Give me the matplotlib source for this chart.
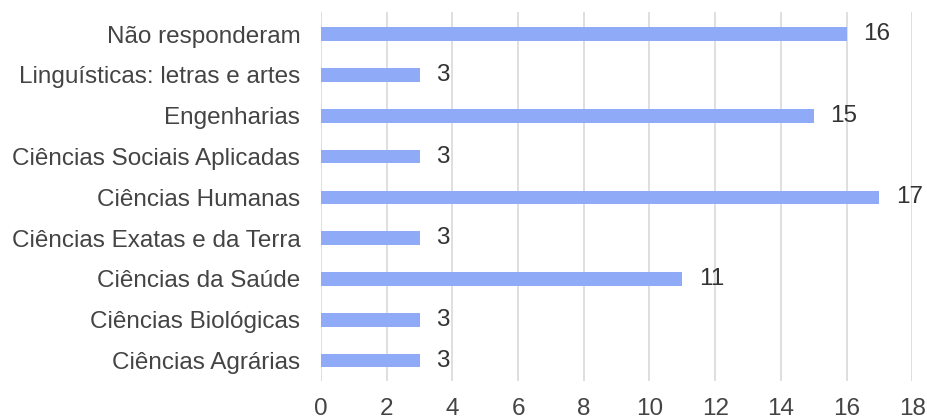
import matplotlib
matplotlib.use("Agg")
import matplotlib.pyplot as plt

categorias = ['Ciências Agrárias', 'Ciências Biológicas', 'Ciências da Saúde',
              'Ciências Exatas e da Terra', 'Ciências Humanas',
              'Ciências Sociais Aplicadas', 'Engenharias',
              'Linguísticas: letras e artes', 'Não responderam']
valores = [3, 3, 11, 3, 17, 3, 15, 3, 16]
xticks = [0, 2, 4, 6, 8, 10, 12, 14, 16, 18]

plt.rcParams['font.family'] = ['Liberation Sans', 'DejaVu Sans']
fs = 17.5

fig = plt.figure(figsize=(9.28, 4.19), dpi=100)
ax = fig.add_axes([0.346, 0.0907, 0.637, 0.8814])

y = range(len(categorias))
ax.barh(y, valores, height=0.335, color='#8fabf7', zorder=3)
for yi, v in zip(y, valores):
    ax.annotate(str(v), (v, yi), xytext=(12, 0), textcoords='offset points',
                va='center', ha='left', fontsize=fs, color='#333333')

ax.set_yticks(list(y))
ax.set_yticklabels(categorias, fontsize=fs, color='#444444')
ax.set_xticks(xticks)
ax.set_xticklabels([str(t) for t in xticks], fontsize=fs, color='#444444')
ax.set_xlim(0, 18)
ax.set_ylim(-0.5, len(categorias) - 0.45)
ax.grid(axis='x', color='#d9d9d9', linewidth=1.2, zorder=0)
for s in ax.spines.values():
    s.set_visible(False)
ax.tick_params(axis='both', length=0)
ax.tick_params(axis='x', pad=12)
ax.tick_params(axis='y', pad=15)

fig.savefig('out.png', dpi=100)
